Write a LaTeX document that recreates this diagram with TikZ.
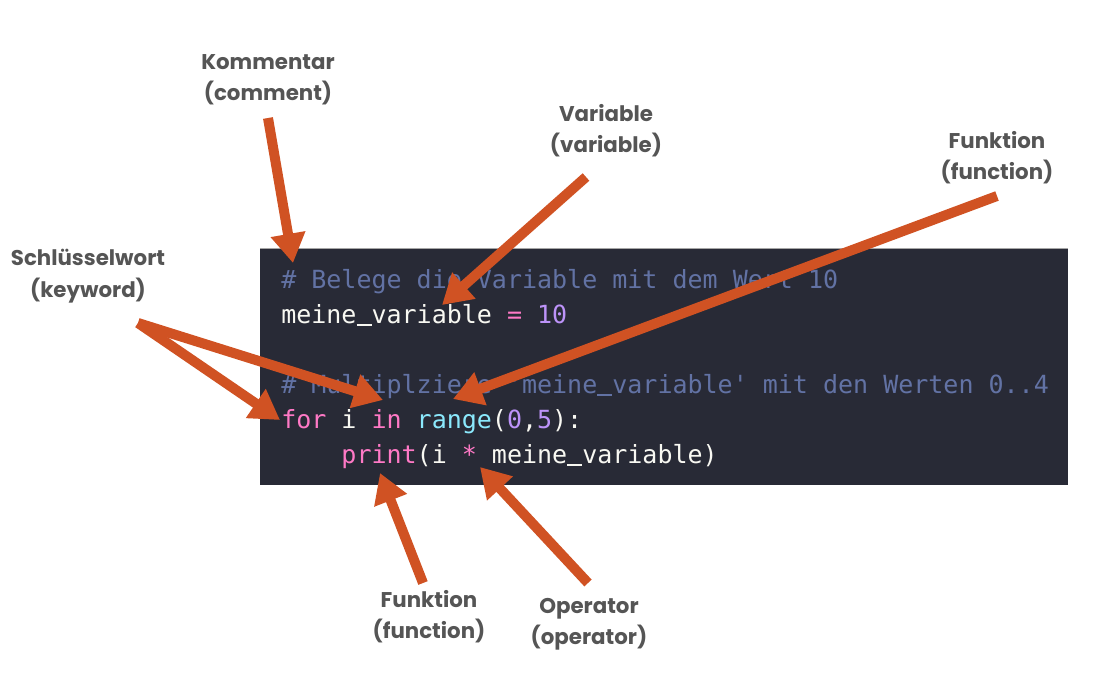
\documentclass[tikz,border=0pt]{standalone}
\usepackage{fontspec}
\setmainfont{Poppins}
\setmonofont{DejaVu Sans Mono}
\usetikzlibrary{arrows.meta}
\definecolor{codebg}{RGB}{40,42,54}
\definecolor{kommentblau}{RGB}{98,114,164}
\definecolor{codepink}{RGB}{255,121,198}
\definecolor{codelila}{RGB}{189,147,249}
\definecolor{codecyan}{RGB}{139,233,253}
\definecolor{codeweiss}{RGB}{248,248,242}
\definecolor{pfeilorange}{RGB}{208,82,35}
\definecolor{labelgrau}{RGB}{85,85,85}
\newcommand{\unterstrich}{\rlap{\rule[-0.1em]{0.6em}{0.08em}}\phantom{x}}
\tikzset{
  beschriftung/.style={align=center, text=labelgrau, inner sep=0.75pt, font=\bfseries\fontsize{16}{23.5}\selectfont},
  codezeile/.style={anchor=base west, inner sep=0pt, text=codeweiss, font=\ttfamily\fontsize{18.75}{20}\selectfont},
  pfeil/.style={draw=pfeilorange, line width=7.5pt, -{Triangle[length=22pt,width=25pt]}},
}
\begin{document}
\begin{tikzpicture}[x=0.75pt,y=0.75pt,yscale=-1,xscale=1]
        \useasboundingbox (0,0) rectangle (1104,676);
        %Shape: Code Box
        \fill [codebg] (260,248) rectangle (1068,485);
        \draw [gray!70, line width=0.75pt] (260,248.5) -- (1068,248.5);
        % Code Lines
        \node [codezeile] (zeile1) at (281,288) {{\color{kommentblau}\# Belege die Variable mit dem Wert 10}};
        \node [codezeile] (zeile2) at (281,323) {meine\unterstrich variable {\color{codepink}=} {\color{codelila}10}};
        \node [codezeile] (zeile4) at (281,393) {{\color{kommentblau}\# Multiplziere 'meine\unterstrich variable' mit den Werten 0..4}};
        \node [codezeile] (zeile5) at (281,428) {{\color{codepink}for} i {\color{codepink}in} {\color{codecyan}range}({\color{codelila}0},{\color{codelila}5}):};
        \node [codezeile] (zeile6) at (281,463) {\hphantom{xxxx}{\color{codepink}print}(i {\color{codepink}*} meine\unterstrich variable)};
        % Text Node
        \node [beschriftung] (kommentar) at (268,80) {Kommentar\\(comment)};
        % Text Node
        \node [beschriftung] (variable) at (606,131) {Variable\\(variable)};
        % Text Node
        \node [beschriftung] (funktionoben) at (997,158) {Funktion\\(function)};
        % Text Node
        \node [beschriftung] (schluessel) at (88,276) {Schlüsselwort\\(keyword)};
        % Text Node
        \node [beschriftung] (funktionunten) at (429,617) {Funktion\\(function)};
        % Text Node
        \node [beschriftung] (operator) at (589,624) {Operator\\(operator)};
        % Arrow ends
        \coordinate (kommentarfuss) at (268,118);
        \coordinate (kommentarziel) at (293,263);
        \coordinate (variablefuss) at (586,177);
        \coordinate (variableziel) at (442,305);
        \coordinate (funktionobenfuss) at (997,196);
        \coordinate (rangeziel) at (453,399);
        \coordinate (schluesselfuss) at (138,323);
        \coordinate (forziel) at (280,420);
        \coordinate (inziel) at (383,400);
        \coordinate (funktionuntenfuss) at (423,583);
        \coordinate (printziel) at (380,473);
        \coordinate (operatorfuss) at (588,583);
        \coordinate (sternziel) at (480,467);
        %Arrows
        \draw [pfeil] (kommentarfuss) -- (kommentarziel);
        \draw [pfeil] (variablefuss) -- (variableziel);
        \draw [pfeil] (funktionobenfuss) -- (rangeziel);
        \draw [pfeil] (schluesselfuss) -- (forziel);
        \draw [pfeil] (schluesselfuss) -- (inziel);
        \draw [pfeil] (funktionuntenfuss) -- (printziel);
        \draw [pfeil] (operatorfuss) -- (sternziel);
    \end{tikzpicture}
\end{document}
